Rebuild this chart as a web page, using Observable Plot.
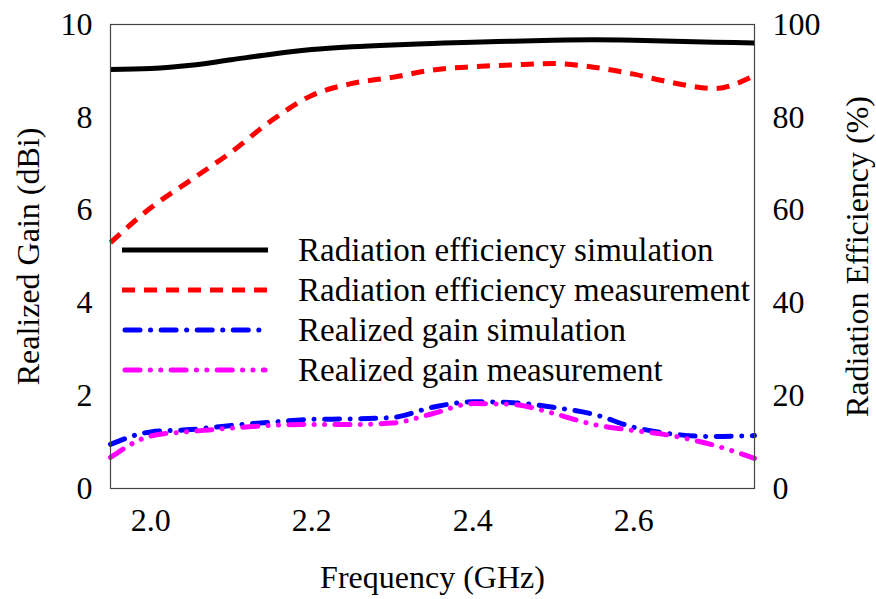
<!DOCTYPE html>
<html>
<head>
<meta charset="utf-8">
<script src="https://cdn.jsdelivr.net/npm/d3@7"></script>
<script src="https://cdn.jsdelivr.net/npm/@observablehq/plot@0.6"></script>
<style>
  body { margin: 0; background: #fff; }
  #wrap { position: relative; width: 876px; height: 599px; font-family: "Liberation Serif", "Times New Roman", serif; }
  #legend { position: absolute; left: 122px; top: 230px; }
  .row { display: flex; align-items: center; height: 40px; }
  .row svg { width: 146px; height: 12px; margin-right: 30px; }
  .row span { font-size: 33px; color: #000; white-space: nowrap; }
</style>
</head>
<body>
<div id="wrap"></div>
<script>
const freq = [1.95, 2.00, 2.05, 2.10, 2.15, 2.20, 2.25, 2.30, 2.35, 2.40, 2.45, 2.50, 2.55, 2.60, 2.65, 2.70, 2.75];
// Radiation efficiency (%)
const effSim  = [90.3, 90.5, 91.2, 92.4, 93.6, 94.6, 95.2, 95.6, 95.9, 96.2, 96.4, 96.6, 96.7, 96.6, 96.4, 96.2, 96.0];
const effMeas = [53.0, 60.5, 66.5, 72.5, 79.3, 84.7, 87.3, 88.6, 90.2, 90.9, 91.3, 91.6, 90.8, 89.3, 87.4, 86.2, 89.0];
// Realized gain (dBi)
const gainSim  = [0.95, 1.22, 1.27, 1.36, 1.43, 1.49, 1.50, 1.53, 1.75, 1.87, 1.85, 1.75, 1.60, 1.32, 1.17, 1.12, 1.14];
const gainMeas = [0.67, 1.13, 1.23, 1.30, 1.36, 1.38, 1.38, 1.41, 1.61, 1.83, 1.81, 1.62, 1.38, 1.25, 1.13, 0.93, 0.65];

const seriesNames = [
  "Radiation efficiency simulation",
  "Radiation efficiency measurement",
  "Realized gain simulation",
  "Realized gain measurement"
];
const leftTicks = [0, 2, 4, 6, 8, 10];
const xTicks = [2.0, 2.2, 2.4, 2.6];

const styles = [
  {stroke: "#000000", dash: null},
  {stroke: "#ff0000", dash: "13,9"},
  {stroke: "#0000ff", dash: "15,10.5,0.1,10.5"},
  {stroke: "#ff00ff", dash: "15,10.3,0.1,10.3,0.1,10.3"}
];

// Efficiency is drawn against the gain scale (100 % ↔ 10 dBi)
const seriesValues = [
  effSim.map(v => v / 10),
  effMeas.map(v => v / 10),
  gainSim,
  gainMeas
];
const table = seriesValues.flatMap((vals, i) =>
  vals.map((v, j) => ({series: seriesNames[i], f: freq[j], y: v, k: i})));

const lineMarks = seriesNames.map((name, i) => Plot.line(table.filter(d => d.k === i), {
  x: "f", y: "y", stroke: styles[i].stroke, strokeWidth: 5,
  strokeDasharray: styles[i].dash, strokeLinecap: i >= 2 ? "round" : "butt",
  curve: "monotone-x"
}));

const chart = Plot.plot({
  width: 876, height: 599,
  marginLeft: 110, marginRight: 122, marginTop: 24, marginBottom: 111,
  style: {fontFamily: '"Liberation Serif", "Times New Roman", serif', fontSize: "32px", color: "#000", background: "#fff"},
  x: {domain: [1.95, 2.75]},
  y: {domain: [0, 10]},
  marks: [
    ...lineMarks,
    Plot.frame({stroke: "#444", strokeWidth: 1.2}),
    Plot.axisX({ticks: xTicks, tickFormat: d3.format(".1f"), tickSize: 0, tickPadding: 20,
      label: "Frequency (GHz)", labelAnchor: "center", labelArrow: "none", labelOffset: 99}),
    Plot.axisY({anchor: "left", ticks: leftTicks, tickSize: 0, tickPadding: 18,
      label: "Realized Gain (dBi)", labelAnchor: "center", labelArrow: "none", labelOffset: 94}),
    Plot.axisY({anchor: "right", ticks: leftTicks, tickFormat: d => d * 10, tickSize: 0, tickPadding: 18,
      label: "Radiation Efficiency (%)", labelAnchor: "center", labelArrow: "none", labelOffset: 113})
  ]
});

const wrap = document.getElementById("wrap");
wrap.appendChild(chart);

const legend = document.createElement("div");
legend.id = "legend";
seriesNames.forEach((name, i) => {
  const row = document.createElement("div");
  row.className = "row";
  const s = styles[i];
  row.innerHTML = `<svg viewBox="0 0 146 12"><line x1="${i >= 2 ? 3 : 0}" y1="6" x2="${i >= 2 ? 143 : 146}" y2="6" stroke="${s.stroke}" stroke-width="5" ${s.dash ? `stroke-dasharray="${s.dash}"` : ""} stroke-linecap="${i >= 2 ? "round" : "butt"}"/></svg><span>${name}</span>`;
  legend.appendChild(row);
});
wrap.appendChild(legend);
</script>
</body>
</html>
